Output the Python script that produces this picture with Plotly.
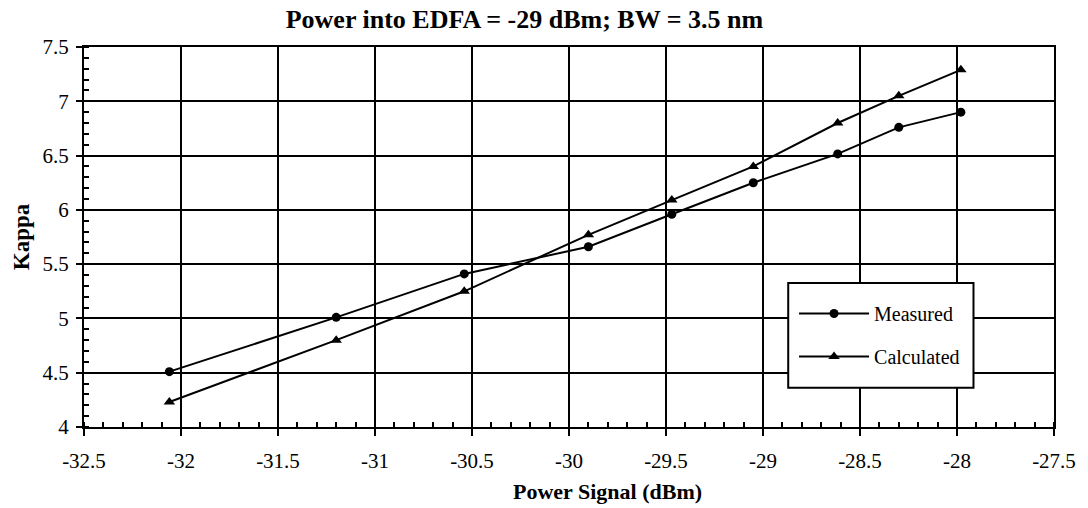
import plotly.graph_objects as go

power_signal = [-32.06, -31.20, -30.54, -29.90, -29.47, -29.05, -28.615, -28.30, -27.98]
kappa_measured = [4.51, 5.01, 5.41, 5.66, 5.96, 6.25, 6.515, 6.76, 6.90]
kappa_calculated = [4.23, 4.80, 5.25, 5.77, 6.09, 6.40, 6.80, 7.05, 7.29]

x_ticks = [-32.5, -32, -31.5, -31, -30.5, -30, -29.5, -29, -28.5, -28, -27.5]
x_tick_labels = ["-32.5", "-32", "-31.5", "-31", "-30.5", "-30", "-29.5", "-29", "-28.5", "-28", "-27.5"]
y_ticks = [4, 4.5, 5, 5.5, 6, 6.5, 7, 7.5]
y_tick_labels = ["4", "4.5", "5", "5.5", "6", "6.5", "7", "7.5"]

FONT = "Liberation Serif"

fig = go.Figure()
fig.add_trace(go.Scatter(
    x=power_signal, y=kappa_measured, name="Measured", mode="lines+markers",
    line=dict(color="black", width=2),
    marker=dict(symbol="circle", size=9, color="black"),
    legendgroup="m",
))
fig.add_trace(go.Scatter(
    x=power_signal, y=kappa_calculated, name="Calculated", mode="lines+markers",
    line=dict(color="black", width=2),
    marker=dict(symbol="triangle-up", size=10, color="black"),
    legendgroup="c",
))

# legend frame
fig.add_shape(type="rect", xref="paper", yref="paper",
              x0=0.726, x1=0.917, y0=0.103, y1=0.379,
              line=dict(color="black", width=2), fillcolor="white", layer="above")

# x-axis title (offset right as in the original)
fig.add_annotation(text="<b>Power Signal (dBm)</b>", xref="paper", yref="paper",
                   x=0.540, y=-0.171, xanchor="center", yanchor="middle",
                   showarrow=False, font=dict(family=FONT, size=22, color="black"))

fig.update_layout(
    width=1088, height=508,
    margin=dict(l=84, r=30, t=47, b=81),
    paper_bgcolor="white", plot_bgcolor="white",
    font=dict(family=FONT, color="black", size=21),
    title=dict(text="<b>Power into EDFA = -29 dBm; BW = 3.5 nm</b>",
               x=0.482, xref="container", xanchor="center",
               y=0.963, yref="container", yanchor="middle",
               font=dict(family=FONT, size=26, color="black")),
    showlegend=True,
    legend=dict(
        x=0.732, y=0.35, xanchor="left", yanchor="top",
        bgcolor="rgba(0,0,0,0)", borderwidth=0,
        font=dict(family=FONT, size=20, color="black"),
        tracegroupgap=14, traceorder="grouped",
        itemwidth=70,
    ),
    xaxis=dict(
        range=[-32.5, -27.5], tickmode="array", tickvals=x_ticks, ticktext=x_tick_labels,
        showgrid=True, gridcolor="black", gridwidth=2,
        showline=True, linecolor="black", linewidth=2, mirror=True,
        ticks="outside", ticklen=7, tickwidth=2, tickcolor="black",
        ticklabelstandoff=7,
        zeroline=False,
        minor=dict(dtick=0.1, ticks="inside", ticklen=5, tickwidth=1.5, tickcolor="black", showgrid=False),
    ),
    yaxis=dict(
        range=[4, 7.5], tickmode="array", tickvals=y_ticks, ticktext=y_tick_labels,
        showgrid=True, gridcolor="black", gridwidth=2,
        showline=True, linecolor="black", linewidth=2, mirror=True,
        ticks="outside", ticklen=6, tickwidth=2, tickcolor="black",
        ticklabelstandoff=3,
        zeroline=False,
        minor=dict(dtick=0.1, ticks="inside", ticklen=5, tickwidth=1.5, tickcolor="black", showgrid=False),
        title=dict(text="<b>Kappa</b>", font=dict(family=FONT, size=23, color="black"), standoff=6),
    ),
)

fig.write_html("out.html")
